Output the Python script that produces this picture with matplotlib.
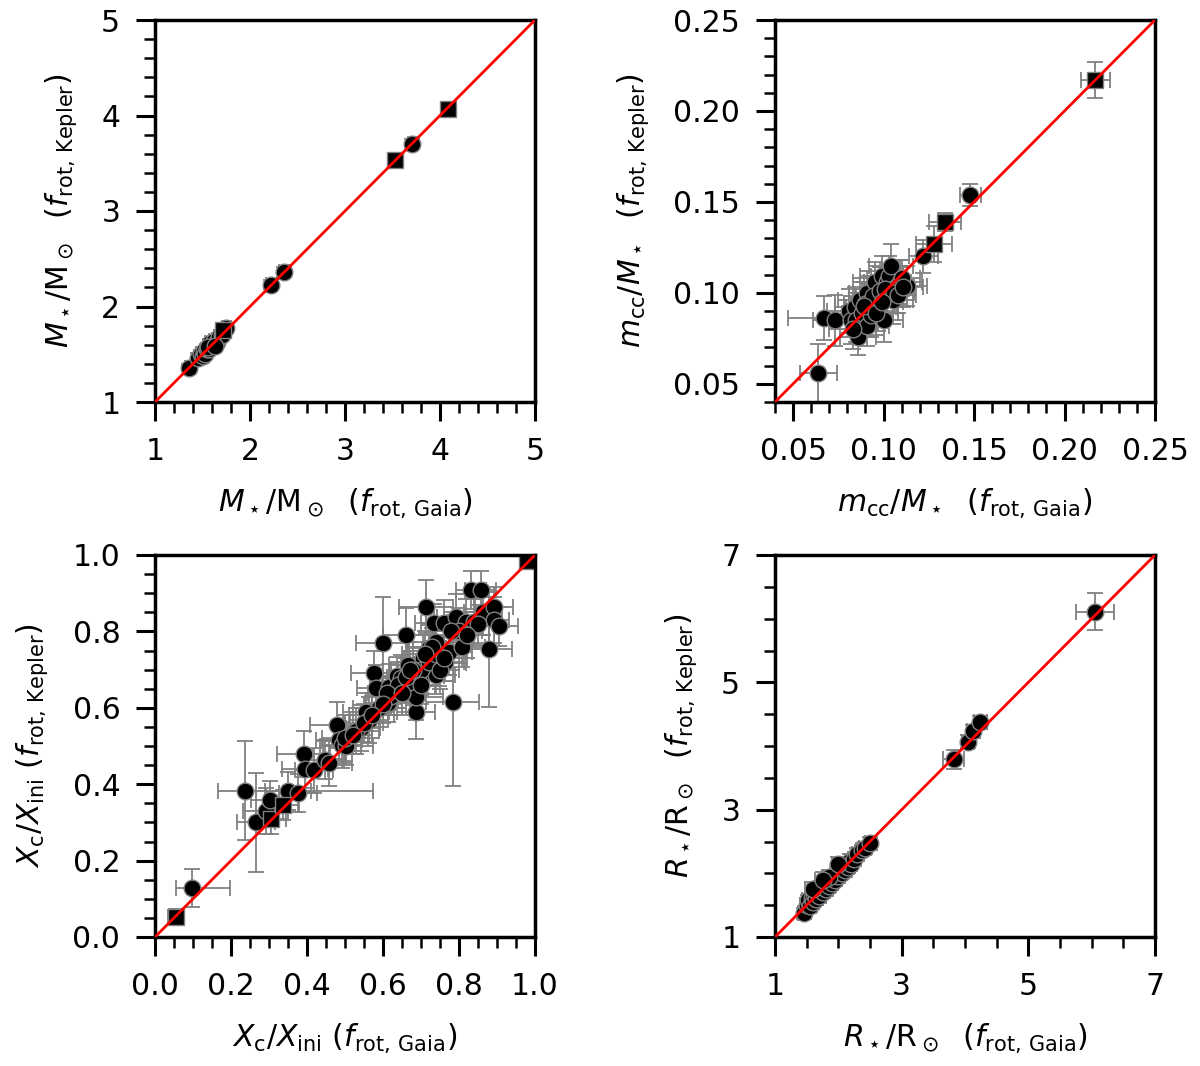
import numpy as np
import matplotlib
matplotlib.use("Agg")
from matplotlib import pyplot as plt

plt.rcParams['font.family'] = ['DejaVu Sans']
plt.rcParams['mathtext.fontset'] = 'dejavusans'

#######################################################################
# Stellar mass  (Gaia vs Kepler rotation frequency)
mass_gaia = [1.36, 1.45, 1.48, 1.50, 1.52, 1.53, 1.55, 1.57, 1.58, 1.60, 1.62,
             1.65, 1.67, 1.70, 1.75, 1.56, 1.63, 2.22, 2.36, 3.71]
mass_kep = [1.36, 1.46, 1.50, 1.48, 1.53, 1.50, 1.55, 1.56, 1.62, 1.60, 1.64,
            1.63, 1.68, 1.70, 1.77, 1.58, 1.59, 2.23, 2.36, 3.70]
mass_gaia_err = [0.04, 0.04, 0.05, 0.04, 0.05, 0.04, 0.05, 0.04, 0.05, 0.04, 0.05,
                 0.04, 0.05, 0.05, 0.05, 0.04, 0.05, 0.05, 0.05, 0.05]
mass_kep_err = [0.04, 0.05, 0.04, 0.05, 0.04, 0.05, 0.04, 0.05, 0.04, 0.05, 0.04,
                0.05, 0.04, 0.05, 0.05, 0.04, 0.05, 0.05, 0.05, 0.05]
mass_sq_gaia = [1.72, 3.53, 4.08]
mass_sq_kep = [1.75, 3.53, 4.07]
mass_sq_gaia_err = [0.05, 0.06, 0.06]
mass_sq_kep_err = [0.05, 0.06, 0.06]

# Convective core mass fraction
mcc_gaia = [0.064, 0.067, 0.073, 0.081, 0.082, 0.084, 0.085, 0.086, 0.087, 0.088,
            0.091, 0.091, 0.092, 0.095, 0.096, 0.097, 0.099, 0.100, 0.102, 0.103,
            0.104, 0.105, 0.107, 0.109, 0.113, 0.122, 0.148, 0.090, 0.094, 0.098,
            0.101, 0.106, 0.110, 0.093, 0.089, 0.083, 0.096, 0.108, 0.111, 0.099]
mcc_kep = [0.056, 0.086, 0.085, 0.090, 0.085, 0.092, 0.085, 0.076, 0.096, 0.089,
           0.082, 0.100, 0.092, 0.106, 0.097, 0.092, 0.109, 0.085, 0.106, 0.109,
           0.115, 0.096, 0.103, 0.106, 0.104, 0.120, 0.154, 0.094, 0.098, 0.101,
           0.102, 0.100, 0.108, 0.088, 0.093, 0.080, 0.089, 0.099, 0.103, 0.095]
mcc_gaia_err = [0.010, 0.020, 0.012, 0.012, 0.010, 0.011, 0.013, 0.010, 0.012, 0.011,
                0.012, 0.010, 0.013, 0.012, 0.011, 0.010, 0.012, 0.011, 0.013, 0.010,
                0.012, 0.011, 0.010, 0.012, 0.011, 0.008, 0.006, 0.012, 0.011, 0.010,
                0.012, 0.011, 0.010, 0.012, 0.011, 0.013, 0.012, 0.010, 0.011, 0.012]
mcc_kep_err = [0.016, 0.012, 0.014, 0.012, 0.013, 0.011, 0.012, 0.010, 0.012, 0.013,
               0.011, 0.012, 0.013, 0.011, 0.012, 0.013, 0.011, 0.012, 0.010, 0.011,
               0.012, 0.013, 0.011, 0.012, 0.011, 0.009, 0.006, 0.012, 0.011, 0.013,
               0.012, 0.011, 0.010, 0.012, 0.013, 0.011, 0.012, 0.010, 0.011, 0.012]
mcc_sq_gaia = [0.128, 0.134, 0.217]
mcc_sq_kep = [0.127, 0.139, 0.217]
mcc_sq_gaia_err = [0.010, 0.009, 0.008]
mcc_sq_kep_err = [0.010, 0.005, 0.010]

# Core hydrogen fraction
xc_gaia = [0.265, 0.291, 0.303, 0.350, 0.376, 0.391, 0.394, 0.418,
           0.448, 0.459, 0.478, 0.484, 0.492, 0.503, 0.542, 0.555, 0.564, 0.577,
           0.582, 0.590, 0.599, 0.612, 0.617, 0.638, 0.647, 0.660, 0.665, 0.678,
           0.687, 0.687, 0.700, 0.706, 0.713, 0.722, 0.735, 0.739, 0.739, 0.748,
           0.761, 0.764, 0.774, 0.783, 0.792, 0.809, 0.818, 0.831, 0.840, 0.857,
           0.862, 0.879, 0.892, 0.892, 0.905, 0.620, 0.640, 0.660, 0.700, 0.720,
           0.740, 0.750, 0.760, 0.700, 0.680, 0.730, 0.800, 0.850, 0.530, 0.550,
           0.500, 0.610, 0.650, 0.670, 0.710, 0.780, 0.820, 0.600, 0.570, 0.520]
xc_kep = [0.300, 0.329, 0.358, 0.382, 0.378, 0.480, 0.440, 0.436,
          0.463, 0.456, 0.555, 0.516, 0.503, 0.499, 0.547, 0.590, 0.568, 0.690,
          0.651, 0.599, 0.770, 0.612, 0.655, 0.682, 0.677, 0.790, 0.711, 0.658,
          0.588, 0.629, 0.684, 0.730, 0.865, 0.756, 0.821, 0.773, 0.686, 0.716,
          0.821, 0.721, 0.747, 0.616, 0.838, 0.758, 0.825, 0.909, 0.825, 0.909,
          0.851, 0.753, 0.865, 0.830, 0.813, 0.630, 0.660, 0.680, 0.700, 0.720,
          0.740, 0.700, 0.730, 0.660, 0.700, 0.760, 0.800, 0.820, 0.540, 0.560,
          0.520, 0.640, 0.640, 0.700, 0.740, 0.800, 0.790, 0.610, 0.580, 0.530]
xc_gaia_err = [0.05, 0.06, 0.05, 0.06, 0.05, 0.07, 0.06, 0.05,
               0.05, 0.06, 0.07, 0.06, 0.05, 0.07, 0.05, 0.06, 0.05, 0.06,
               0.05, 0.07, 0.07, 0.06, 0.05, 0.06, 0.05, 0.06, 0.05, 0.06,
               0.05, 0.07, 0.06, 0.05, 0.07, 0.06, 0.05, 0.06, 0.05, 0.07,
               0.06, 0.05, 0.06, 0.07, 0.05, 0.06, 0.05, 0.04, 0.05, 0.04,
               0.05, 0.06, 0.05, 0.04, 0.05, 0.05, 0.06, 0.05, 0.06, 0.05,
               0.06, 0.05, 0.06, 0.05, 0.06, 0.05, 0.06, 0.05, 0.06, 0.05,
               0.06, 0.05, 0.06, 0.05, 0.06, 0.05, 0.06, 0.05, 0.06, 0.05]
xc_kep_err = [0.13, 0.06, 0.05, 0.05, 0.05, 0.06, 0.05, 0.06,
              0.05, 0.06, 0.06, 0.05, 0.06, 0.05, 0.06, 0.05, 0.06, 0.06,
              0.06, 0.05, 0.12, 0.05, 0.06, 0.05, 0.06, 0.07, 0.06, 0.05,
              0.07, 0.06, 0.05, 0.06, 0.07, 0.06, 0.05, 0.06, 0.05, 0.06,
              0.06, 0.05, 0.06, 0.22, 0.06, 0.05, 0.06, 0.05, 0.06, 0.05,
              0.06, 0.15, 0.05, 0.06, 0.05, 0.05, 0.06, 0.05, 0.06, 0.05,
              0.06, 0.05, 0.06, 0.05, 0.06, 0.05, 0.06, 0.05, 0.06, 0.05,
              0.06, 0.05, 0.06, 0.05, 0.06, 0.05, 0.06, 0.05, 0.06, 0.05]
# stars with a strongly asymmetric Gaia-side uncertainty
xc_wide_gaia = [0.098, 0.236]
xc_wide_kep = [0.129, 0.383]
xc_wide_gaia_lo = [0.043, 0.071]
xc_wide_gaia_hi = [0.100, 0.337]
xc_wide_kep_err = [0.05, 0.13]
xc_sq_gaia = [0.055, 0.306, 0.338, 0.980]
xc_sq_kep = [0.052, 0.310, 0.346, 0.983]
xc_sq_gaia_err = [0.02, 0.04, 0.04, 0.02]
xc_sq_kep_err = [0.02, 0.04, 0.04, 0.02]

# Stellar radius
rad_gaia = [1.45, 1.50, 1.52, 1.55, 1.58, 1.60, 1.62, 1.65, 1.68, 1.70, 1.72, 1.75,
            1.78, 1.80, 1.82, 1.85, 1.88, 1.90, 1.93, 1.95, 1.98, 2.00, 2.03, 2.05,
            2.08, 2.10, 2.13, 2.15, 2.18, 2.20, 2.25, 2.30, 2.37, 2.42, 2.50, 1.60,
            1.85, 1.75, 2.00, 3.82, 4.05, 4.13, 4.24, 6.05]
rad_kep = [1.37, 1.50, 1.58, 1.48, 1.62, 1.55, 1.68, 1.60, 1.72, 1.65, 1.78, 1.70,
           1.82, 1.75, 1.88, 1.80, 1.92, 1.85, 1.95, 1.90, 2.02, 1.96, 2.10, 2.00,
           2.12, 2.05, 2.15, 2.10, 2.20, 2.15, 2.22, 2.30, 2.37, 2.40, 2.47, 1.75,
           1.95, 1.90, 2.15, 3.79, 4.07, 4.23, 4.37, 6.11]
rad_gaia_err = [0.08, 0.10, 0.09, 0.10, 0.08, 0.09, 0.10, 0.08, 0.09, 0.10, 0.08, 0.09,
                0.10, 0.08, 0.09, 0.10, 0.08, 0.09, 0.10, 0.08, 0.09, 0.10, 0.08, 0.09,
                0.10, 0.08, 0.09, 0.10, 0.08, 0.09, 0.10, 0.08, 0.09, 0.10, 0.08, 0.12,
                0.10, 0.12, 0.10, 0.17, 0.10, 0.10, 0.10, 0.30]
rad_kep_err = [0.09, 0.10, 0.08, 0.09, 0.10, 0.08, 0.09, 0.10, 0.08, 0.09, 0.10, 0.08,
               0.09, 0.10, 0.08, 0.09, 0.10, 0.08, 0.09, 0.10, 0.08, 0.09, 0.10, 0.08,
               0.09, 0.10, 0.08, 0.09, 0.10, 0.08, 0.09, 0.10, 0.08, 0.09, 0.10, 0.12,
               0.10, 0.12, 0.10, 0.15, 0.10, 0.10, 0.10, 0.29]
#######################################################################

fs = 21.5
err_kw = dict(fmt='none', ecolor='grey', elinewidth=1.3, capsize=6, capthick=1.3, zorder=1)
dot_kw = dict(color='black', mec='grey', mew=1.0, ms=12, zorder=2, ls='none')


def panel(rect, x, y, xe, ye, sx, sy, sxe, sye, lims, ticks, minor, xlab, ylab, fmt):
    ax = fig.add_axes(rect)
    ax.errorbar(x, y, xerr=xe, yerr=ye, **err_kw)
    if len(sx):
        ax.errorbar(sx, sy, xerr=sxe, yerr=sye, **err_kw)
    ax.plot(x, y, 'o', **dot_kw)
    if len(sx):
        ax.plot(sx, sy, 's', **dot_kw)
    ax.plot(lims, lims, color='red', lw=2, zorder=3)
    ax.set_xticks(ticks)
    ax.set_yticks(ticks)
    ax.set_xlim(lims)
    ax.set_ylim(lims)
    ax.xaxis.set_minor_locator(plt.MultipleLocator(minor))
    ax.yaxis.set_minor_locator(plt.MultipleLocator(minor))
    ax.xaxis.set_major_formatter(plt.FormatStrFormatter(fmt))
    ax.yaxis.set_major_formatter(plt.FormatStrFormatter(fmt))
    ax.tick_params(which='major', direction='out', length=14, width=2.2, labelsize=fs, pad=11)
    ax.tick_params(which='minor', direction='out', length=8, width=1.8)
    for s in ax.spines.values():
        s.set_linewidth(2.5)
    ax.set_xlabel(xlab, fontsize=fs, labelpad=15)
    ax.set_ylabel(ylab, fontsize=fs, labelpad=16)
    return ax


fig = plt.figure(figsize=(12, 10.66), dpi=100)

w, h = 380 / 1200, 382 / 1066
gaia = r'($f_{\mathrm{rot,\,Gaia}}$)'
kep = r'($f_{\mathrm{rot,\,Kepler}}$)'

panel([155 / 1200, 1 - 402 / 1066, w, h], mass_gaia, mass_kep, mass_gaia_err, mass_kep_err,
      mass_sq_gaia, mass_sq_kep, mass_sq_gaia_err, mass_sq_kep_err,
      (1, 5), [1, 2, 3, 4, 5], 0.2,
      r'$M_\star/\mathrm{M}_\odot$  ' + gaia, r'$M_\star/\mathrm{M}_\odot$  ' + kep, '%d')

panel([775 / 1200, 1 - 402 / 1066, w, h], mcc_gaia, mcc_kep, mcc_gaia_err, mcc_kep_err,
      mcc_sq_gaia, mcc_sq_kep, mcc_sq_gaia_err, mcc_sq_kep_err,
      (0.04, 0.25), [0.05, 0.10, 0.15, 0.20, 0.25], 0.01,
      r'$m_{\mathrm{cc}}/M_\star$  ' + gaia, r'$m_{\mathrm{cc}}/M_\star$  ' + kep, '%.2f')

ax3 = panel([155 / 1200, 1 - 937 / 1066, w, h], xc_gaia, xc_kep, xc_gaia_err, xc_kep_err,
            xc_sq_gaia, xc_sq_kep, xc_sq_gaia_err, xc_sq_kep_err,
            (0, 1), [0.0, 0.2, 0.4, 0.6, 0.8, 1.0], 0.05,
            r'$X_{\mathrm{c}}/X_{\mathrm{ini}}$ ' + gaia, r'$X_{\mathrm{c}}/X_{\mathrm{ini}}$ ' + kep, '%.1f')
ax3.errorbar(xc_wide_gaia, xc_wide_kep, xerr=[xc_wide_gaia_lo, xc_wide_gaia_hi],
             yerr=xc_wide_kep_err, **err_kw)
ax3.plot(xc_wide_gaia, xc_wide_kep, 'o', **dot_kw)

panel([775 / 1200, 1 - 937 / 1066, w, h], rad_gaia, rad_kep, rad_gaia_err, rad_kep_err,
      [], [], [], [],
      (1, 7), [1, 3, 5, 7], 0.5,
      r'$R_\star/\mathrm{R}_\odot$  ' + gaia, r'$R_\star/\mathrm{R}_\odot$  ' + kep, '%d')

fig.savefig("out.png", dpi=100)
plt.close()
